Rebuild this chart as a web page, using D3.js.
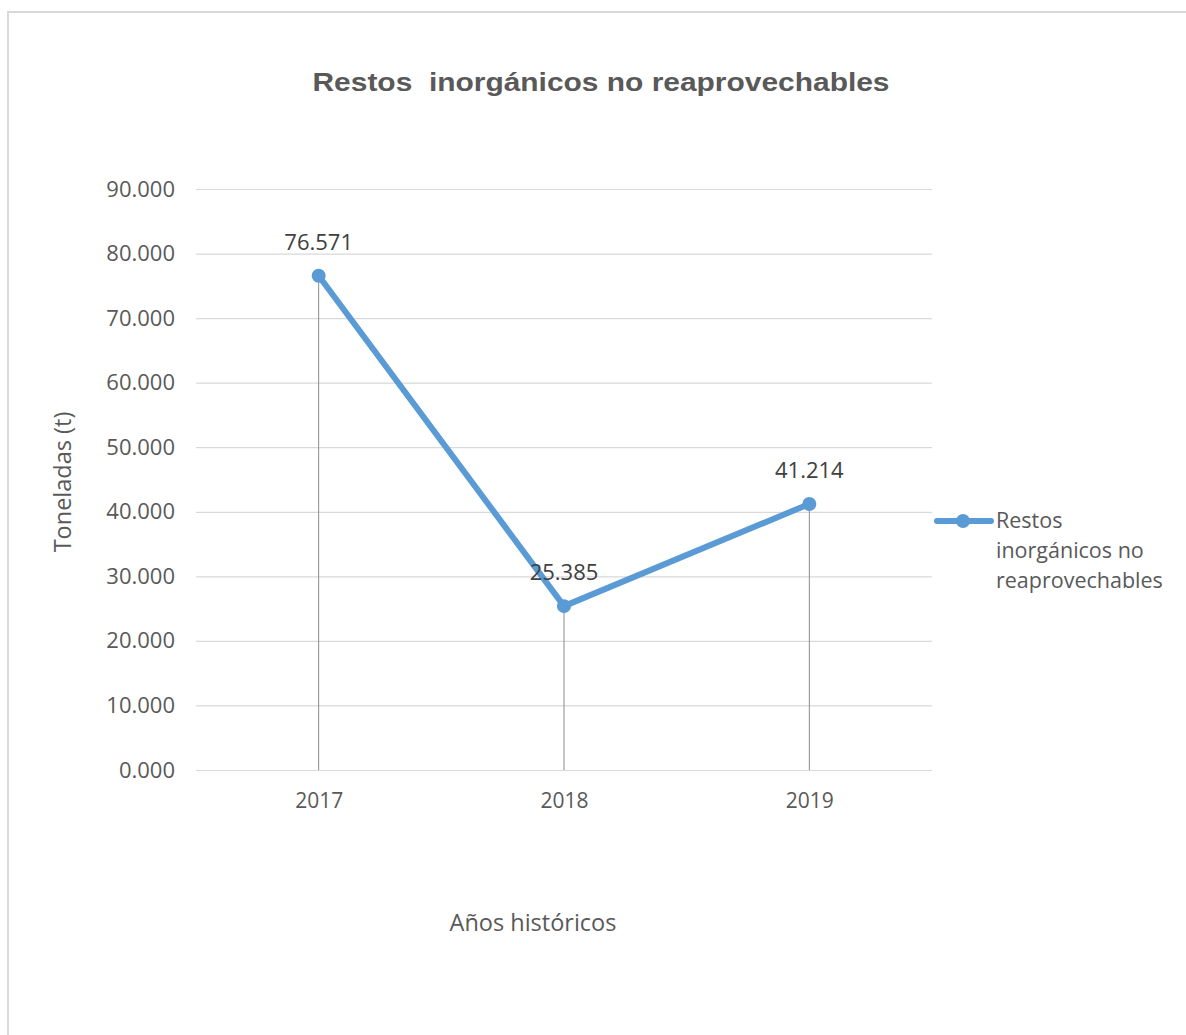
<!DOCTYPE html>
<html>
<head>
<meta charset="utf-8">
<script src="https://cdn.jsdelivr.net/npm/d3@7"></script>
<style>
  html, body { margin: 0; padding: 0; background: #fff; }
  svg { display: block; }
</style>
</head>
<body>
<div id="chart"></div>
<script>
// Series: tonnes of non-recoverable inorganic residues per year
const years = ["2017", "2018", "2019"];
const tonnes = [76.571, 25.385, 41.214];
const yTicks = [0, 10, 20, 30, 40, 50, 60, 70, 80, 90];
const seriesName = "Restos inorgánicos no reaprovechables";
const legendLines = ["Restos", "inorgánicos no", "reaprovechables"];

const W = 1186, H = 1035;
const plot = { left: 196, right: 932, top: 189, bottom: 770 };
const lineColor = "#5b9bd5";
const font = "'Open Sans', 'Noto Sans', sans-serif";

const svg = d3.select("#chart").append("svg")
  .attr("width", W).attr("height", H);

// chart area frame (top and left edges visible)
svg.append("path")
  .attr("d", `M8,${H} L8,12 L${W},12`)
  .attr("fill", "none").attr("stroke", "#d9d9d9").attr("stroke-width", 2);

const x = d3.scalePoint().domain(years)
  .range([plot.left, plot.right]).padding(0.5);
const y = d3.scaleLinear().domain([0, 90])
  .range([plot.bottom, plot.top]);

const fmt = v => d3.format(".3f")(v);

// title
svg.append("text")
  .attr("x", 601).attr("y", 91)
  .attr("text-anchor", "middle")
  .attr("font-family", "'Liberation Sans', Arial, sans-serif")
  .attr("font-weight", "bold").attr("font-size", 25)
  .attr("fill", "#595959")
  .attr("textLength", 577).attr("lengthAdjust", "spacingAndGlyphs")
  .attr("xml:space", "preserve")
  .text("Restos  inorgánicos no reaprovechables");

// horizontal gridlines + tick labels
const yAxis = d3.axisLeft(y).tickValues(yTicks)
  .tickSize(-(plot.right - plot.left)).tickPadding(21)
  .tickFormat(fmt);
const gy = svg.append("g")
  .attr("transform", `translate(${plot.left},0)`)
  .call(yAxis);
gy.select(".domain").remove();
gy.selectAll(".tick line").attr("stroke", "#d9d9d9").attr("stroke-width", 1.2);
gy.selectAll(".tick text")
  .attr("font-family", font).attr("font-size", 22)
  .attr("fill", "#595959");

// category labels
const xAxis = d3.axisBottom(x).tickSize(0).tickPadding(23);
const gx = svg.append("g")
  .attr("transform", `translate(0,${plot.bottom})`)
  .call(xAxis);
gx.select(".domain").remove();
gx.selectAll(".tick text")
  .attr("font-family", font).attr("font-size", 21)
  .attr("fill", "#595959");

// drop lines from each point to the category axis
svg.append("g").selectAll("line")
  .data(tonnes)
  .join("line")
  .attr("x1", (d, i) => x(years[i])).attr("x2", (d, i) => x(years[i]))
  .attr("y1", d => y(d)).attr("y2", y(0))
  .attr("stroke", "#8c8c8c").attr("stroke-width", 1);

// series line
const line = d3.line()
  .x((d, i) => x(years[i]))
  .y(d => y(d));
svg.append("path")
  .datum(tonnes)
  .attr("d", line)
  .attr("fill", "none")
  .attr("stroke", lineColor).attr("stroke-width", 6)
  .attr("stroke-linejoin", "round").attr("stroke-linecap", "round");

// markers
svg.append("g").selectAll("circle")
  .data(tonnes)
  .join("circle")
  .attr("cx", (d, i) => x(years[i])).attr("cy", d => y(d))
  .attr("r", 7).attr("fill", lineColor);

// data labels
svg.append("g").selectAll("text")
  .data(tonnes)
  .join("text")
  .attr("x", (d, i) => x(years[i])).attr("y", d => y(d) - 26)
  .attr("text-anchor", "middle")
  .attr("font-family", font).attr("font-size", 22)
  .attr("fill", "#404040")
  .text(d => fmt(d));

// axis titles
svg.append("text")
  .attr("transform", "translate(71,482) rotate(-90)")
  .attr("text-anchor", "middle")
  .attr("font-family", font).attr("font-size", 23.5)
  .attr("fill", "#595959")
  .text("Toneladas (t)");

svg.append("text")
  .attr("x", 533).attr("y", 931)
  .attr("text-anchor", "middle")
  .attr("font-family", font).attr("font-size", 23.5)
  .attr("fill", "#595959")
  .text("Años históricos");

// legend
const lg = svg.append("g").attr("aria-label", seriesName);
lg.append("line")
  .attr("x1", 937).attr("x2", 991).attr("y1", 521).attr("y2", 521)
  .attr("stroke", lineColor).attr("stroke-width", 6)
  .attr("stroke-linecap", "round");
lg.append("circle")
  .attr("cx", 963).attr("cy", 521).attr("r", 7).attr("fill", lineColor);
lg.selectAll("text.lt")
  .data(legendLines)
  .join("text")
  .attr("class", "lt")
  .attr("x", 996).attr("y", (d, i) => 528 + i * 30)
  .attr("font-family", font).attr("font-size", 21.5)
  .attr("fill", "#595959")
  .text(d => d);
</script>
</body>
</html>
